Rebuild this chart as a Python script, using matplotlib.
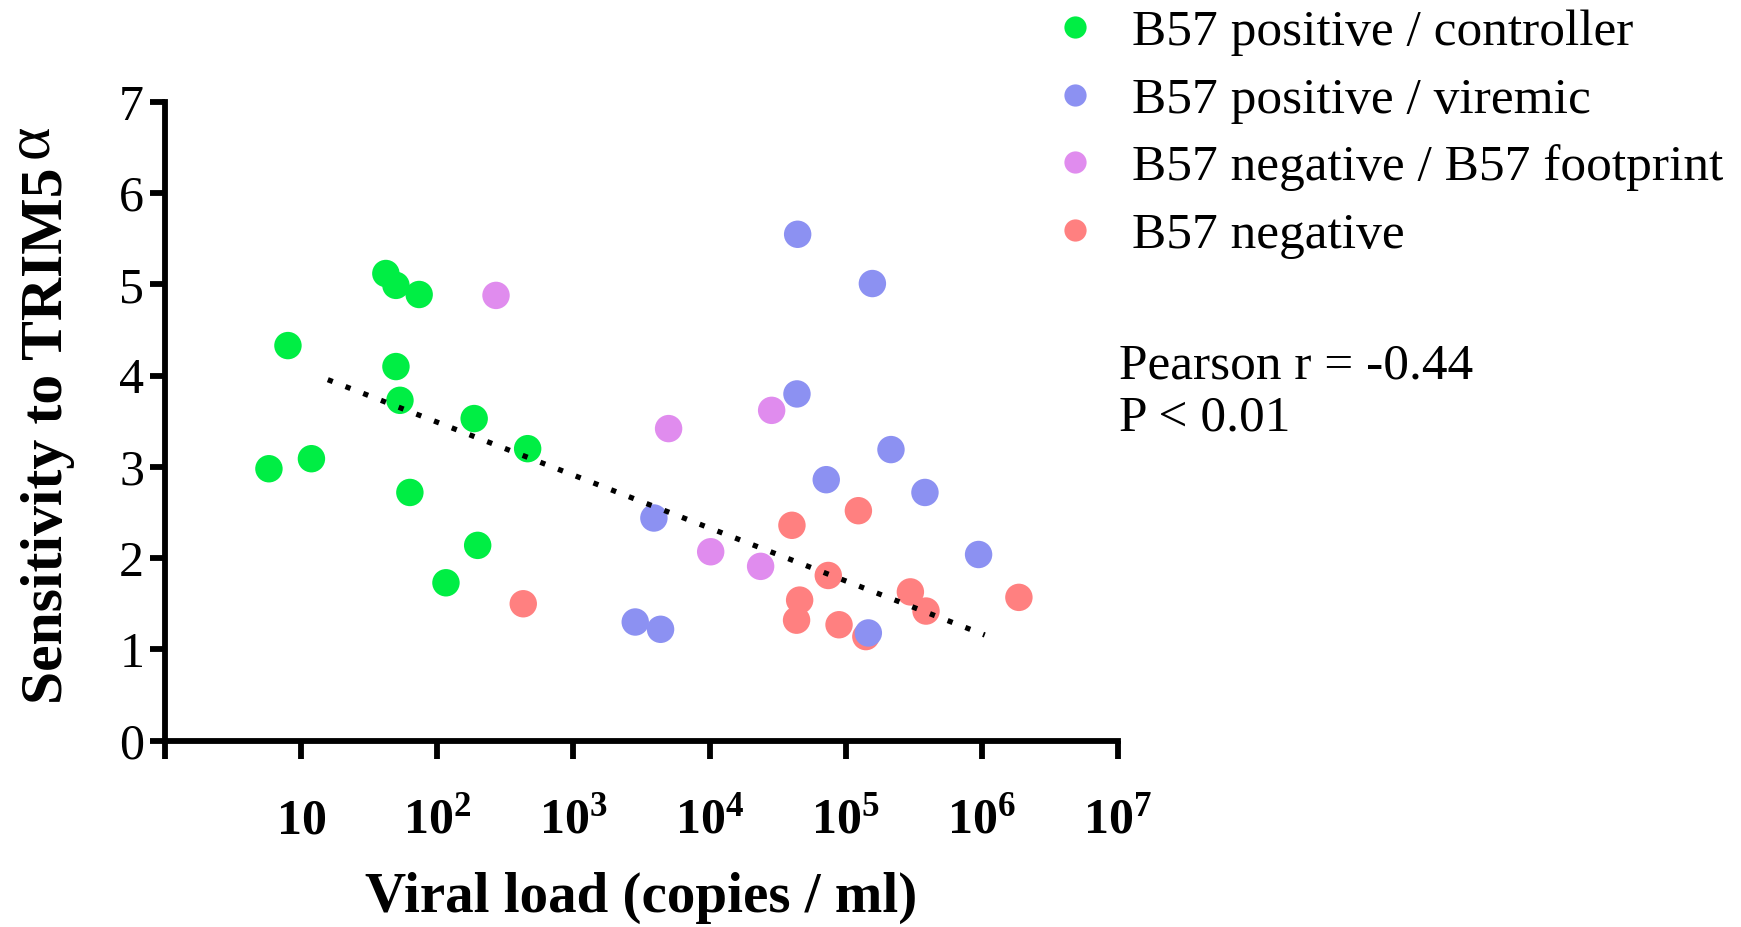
import numpy as np
import matplotlib
matplotlib.use("Agg")
import matplotlib.pyplot as plt
from matplotlib.lines import Line2D

# ---------------- data ----------------
group_labels = ["B57 positive / controller", "B57 positive / viremic",
                "B57 negative / B57 footprint", "B57 negative"]
group_colors = ["#00EE44", "#8C91F2", "#E08CEE", "#FF8080"]

ctrl_vl = [5.8, 8.0, 11.9, 41.9, 49.7, 73.6, 49.7, 53.2, 62.9, 115.8, 186.6, 198, 461]
ctrl_sens = [2.98, 4.33, 3.09, 5.12, 4.99, 4.89, 4.10, 3.73, 2.72, 1.73, 3.53, 2.14, 3.20]

vir_vl = [44360, 157000, 43850, 215000, 71950, 382000, 3900, 946000, 146600, 2845, 4365]
vir_sens = [5.55, 5.01, 3.80, 3.19, 2.86, 2.72, 2.44, 2.04, 1.18, 1.30, 1.22]

foot_vl = [270, 28570, 5000, 10190, 23710]
foot_sens = [4.88, 3.62, 3.42, 2.07, 1.91]

neg_vl = [428, 123900, 40270, 74470, 298500, 1871000, 45870, 389000, 43550, 89330, 140600]
neg_sens = [1.50, 2.52, 2.36, 1.81, 1.63, 1.57, 1.54, 1.42, 1.32, 1.27, 1.14]

trend_slope = -0.58          # sensitivity per log10(viral load)
trend_intercept = 4.65
trend_vl_range = [15.7, 1050000]

xtick_vals = [1, 10, 1e2, 1e3, 1e4, 1e5, 1e6, 1e7]
xtick_labels = ["", r"$\mathbf{10}$", r"$\mathbf{10^{2}}$", r"$\mathbf{10^{3}}$",
                r"$\mathbf{10^{4}}$", r"$\mathbf{10^{5}}$", r"$\mathbf{10^{6}}$",
                r"$\mathbf{10^{7}}$"]
ytick_vals = [0, 1, 2, 3, 4, 5, 6, 7]

ylabel_main = "Sensitivity to TRIM5"
ylabel_sup = "α"
xlabel_text = "Viral load (copies / ml)"
stats_text = "Pearson r = -0.44\nP < 0.01"

# ---------------- style ----------------
plt.rcParams["font.family"] = ["Liberation Serif", "DejaVu Serif"]
plt.rcParams["mathtext.fontset"] = "custom"
plt.rcParams["mathtext.rm"] = "Liberation Serif"
plt.rcParams["mathtext.bf"] = "Liberation Serif:bold"
plt.rcParams["mathtext.it"] = "Liberation Serif:italic"

fig = plt.figure(figsize=(17.41, 9.27), dpi=100)
ax = fig.add_axes([165 / 1741, 1 - 740.6 / 927, (1118 - 165) / 1741, (740.6 - 102) / 927])

msize = 390
series = [
    (neg_vl, neg_sens, group_colors[3]),
    (foot_vl, foot_sens, group_colors[2]),
    (ctrl_vl, ctrl_sens, group_colors[0]),
    (vir_vl, vir_sens, group_colors[1]),
]
for xv, yv, c in series:
    ax.scatter(xv, yv, s=msize, color=c, edgecolors="none", zorder=3)

tx = np.array(trend_vl_range)
ty = trend_intercept + trend_slope * np.log10(tx)
ax.plot(tx, ty, color="black", lw=3.8, linestyle=(0, (1, 2.6)), zorder=4,
        dash_capstyle="butt")

ax.set_xscale("log")
ax.set_xlim(1, 1e7)
ax.set_ylim(0, 7)
ax.set_xticks(xtick_vals)
ax.set_xticklabels(xtick_labels, fontsize=36)
ax.xaxis.set_minor_locator(matplotlib.ticker.NullLocator())
ax.set_yticks(ytick_vals)
ax.set_yticklabels([str(v) for v in ytick_vals], fontsize=36)

for s in ["top", "right"]:
    ax.spines[s].set_visible(False)
for s in ["left", "bottom"]:
    ax.spines[s].set_linewidth(4.2)
    ax.spines[s].set_capstyle("projecting")
ax.tick_params(axis="x", length=13, width=4.2, pad=28)
ax.tick_params(axis="y", length=11, width=4.2, pad=4)

ax.set_xlabel(xlabel_text, fontsize=41, fontweight="bold", labelpad=20)

# y label: main part on its baseline, alpha as a raised full-size glyph
ylab = ax.set_ylabel(ylabel_main, fontsize=43, fontweight="bold")
ylab.set_verticalalignment("baseline")
base_x_axes = (62 - 165) / 953
ax.yaxis.set_label_coords(base_x_axes, (740.6 - 436) / 638.6)

handles = [Line2D([], [], marker="o", linestyle="none", markersize=16,
                  markerfacecolor=c, markeredgecolor="none") for c in group_colors]
fig.legend(handles, group_labels, loc="upper left", bbox_to_anchor=(1049 / 1741, 1 - 9 / 927),
           frameon=False, fontsize=37, handletextpad=0.62, labelspacing=0.40,
           borderaxespad=0.0, borderpad=0.0, handlelength=1.0)

fig.text(1119 / 1741, 1 - 392 / 927, stats_text, fontsize=37, ha="left", va="center",
         linespacing=1.15)

fig.canvas.draw()
bb = ylab.get_window_extent()
base_disp_x = ax.transAxes.transform((base_x_axes, 0))[0]
sup_pos = fig.transFigure.inverted().transform((base_disp_x - 15, bb.y1 + 10))
fig.text(sup_pos[0], sup_pos[1], ylabel_sup, fontsize=46, rotation=90,
         rotation_mode="anchor", ha="left", va="baseline")

fig.savefig("out.png", dpi=100)
